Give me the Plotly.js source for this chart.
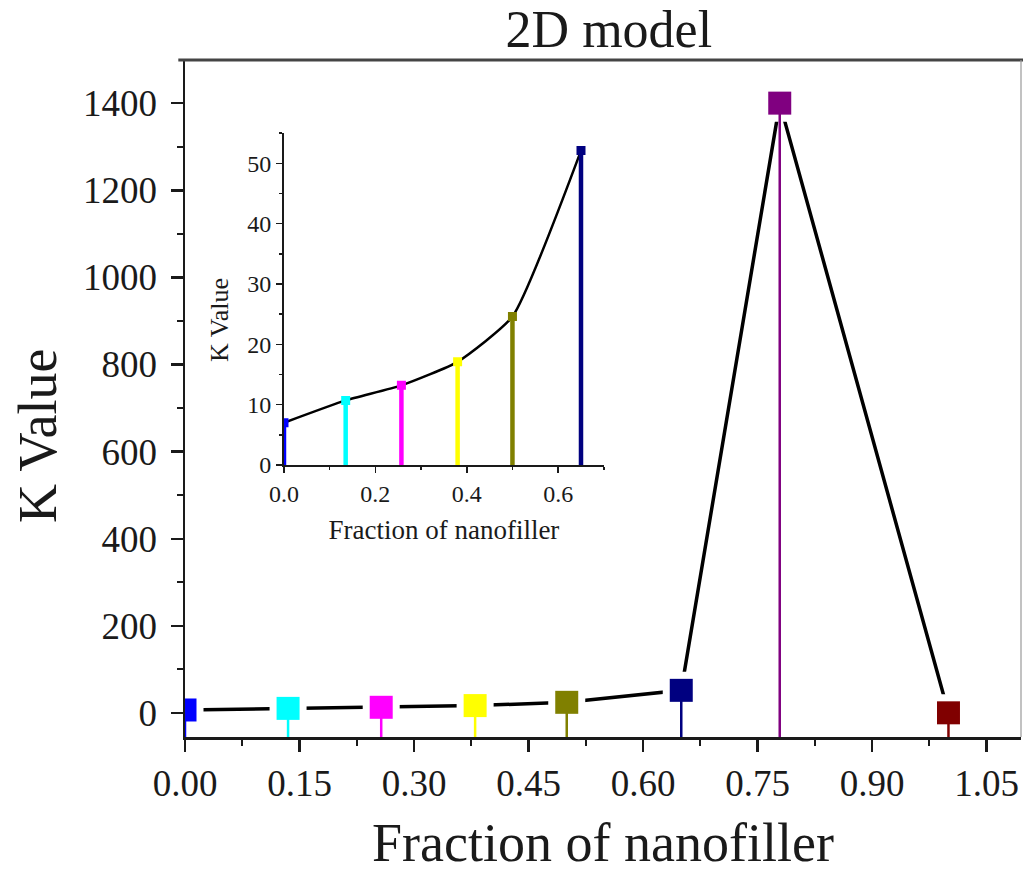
<!DOCTYPE html>
<html>
<head>
<meta charset="utf-8">
<script src="https://cdn.plot.ly/plotly-3.0.1.min.js"></script>
<style>html,body{margin:0;padding:0;background:#fff;}#chart{width:1023px;height:873px;}</style>
</head>
<body>
<div id="chart"></div>
<script>
// ---- data ----
const fraction = [0, 0.135, 0.257, 0.38, 0.5, 0.65, 0.779, 1.0];
const kValue = [7.0, 10.7, 13.2, 17.1, 24.6, 52.1, 1400, 0.5];
const pointColors = ['#0000ff', '#00ffff', '#ff00ff', '#ffff00', '#808000', '#000080', '#800080', '#800000'];
const insetCount = 6; // inset shows the first six points
const mainXRange = [0, 1.095];
const mainYRange = [-55, 1499];
const insetXRange = [0, 0.7];
const insetYRange = [0, 55];

const FONT = 'Liberation Serif, Times New Roman, serif';
const INK = '#1a1a1a';

const traces = [];
// main connecting line
traces.push({x: fraction, y: kValue, mode: 'lines', line: {color: '#000', width: 3.5},
  xaxis: 'x', yaxis: 'y', hoverinfo: 'skip', showlegend: false});
// white gaps around markers (Origin style)
traces.push({x: fraction, y: kValue, mode: 'markers', marker: {symbol: 'square', size: 37, color: '#fff'},
  xaxis: 'x', yaxis: 'y', hoverinfo: 'skip', showlegend: false});
// drop lines (main)
fraction.forEach((fx, i) => {
  traces.push({x: [fx, fx], y: [kValue[i], mainYRange[0]], mode: 'lines',
    line: {color: pointColors[i], width: 2.5}, xaxis: 'x', yaxis: 'y', hoverinfo: 'skip', showlegend: false});
});
// main markers
traces.push({x: fraction, y: kValue, mode: 'markers',
  marker: {symbol: 'square', size: 23, color: pointColors},
  xaxis: 'x', yaxis: 'y', showlegend: false, cliponaxis: true});

// inset
const inX = fraction.slice(0, insetCount);
const inY = kValue.slice(0, insetCount);
const inC = pointColors.slice(0, insetCount);
traces.push({x: inX, y: inY, mode: 'lines', line: {color: '#000', width: 2.5, shape: 'spline', smoothing: 0.5},
  xaxis: 'x2', yaxis: 'y2', hoverinfo: 'skip', showlegend: false});
inX.forEach((fx, i) => {
  traces.push({x: [fx, fx], y: [inY[i], insetYRange[0]], mode: 'lines',
    line: {color: inC[i], width: 4.5}, xaxis: 'x2', yaxis: 'y2', hoverinfo: 'skip', showlegend: false});
});
traces.push({x: inX, y: inY, mode: 'markers', marker: {symbol: 'square', size: 9, color: inC},
  xaxis: 'x2', yaxis: 'y2', showlegend: false, cliponaxis: true});

const axisCommon = {showgrid: false, zeroline: false, showline: true, linecolor: INK, ticks: 'outside', tickcolor: INK};

const layout = {
  width: 1023, height: 873,
  margin: {l: 185, r: 2, t: 60, b: 136},
  paper_bgcolor: '#fff', plot_bgcolor: 'rgba(0,0,0,0)',
  font: {family: FONT, color: INK},
  showlegend: false,
  title: {text: '2D model', font: {family: FONT, size: 52, color: INK},
    xref: 'paper', x: 0.507, xanchor: 'center', yref: 'container', y: 0.967, yanchor: 'middle'},
  xaxis: Object.assign({}, axisCommon, {
    range: mainXRange, tick0: 0, dtick: 0.15, tickformat: '.2f',
    linewidth: 2.5, ticklen: 12, tickwidth: 2.5,
    minor: {dtick: 0.075, ticklen: 6, tickwidth: 2, ticks: 'outside', tickcolor: INK},
    tickfont: {family: FONT, size: 37, color: INK},
    title: {text: 'Fraction of nanofiller', font: {family: FONT, size: 54, color: INK}, standoff: 22}
  }),
  yaxis: Object.assign({}, axisCommon, {
    range: mainYRange, tick0: 0, dtick: 200,
    linewidth: 2.5, ticklen: 12, tickwidth: 2.5,
    minor: {dtick: 100, ticklen: 6, tickwidth: 2, ticks: 'outside', tickcolor: INK},
    tickfont: {family: FONT, size: 37, color: INK},
    ticklabelstandoff: 6
  }),
  xaxis2: Object.assign({}, axisCommon, {
    domain: [0.1184, 0.501], anchor: 'y2', range: insetXRange, tick0: 0, dtick: 0.2, tickformat: '.1f',
    linewidth: 2, ticklen: 6, tickwidth: 1.5,
    minor: {dtick: 0.1, ticklen: 3, tickwidth: 1.5, ticks: 'outside', tickcolor: INK},
    tickfont: {family: FONT, size: 24, color: INK},
    title: {text: 'Fraction of nanofiller', font: {family: FONT, size: 27, color: INK}, standoff: 14}
  }),
  yaxis2: Object.assign({}, axisCommon, {
    domain: [0.4018, 0.892], anchor: 'x2', range: insetYRange, tick0: 0, dtick: 10,
    linewidth: 2, ticklen: 6, tickwidth: 1.5,
    minor: {dtick: 5, ticklen: 3, tickwidth: 1.5, ticks: 'outside', tickcolor: INK},
    tickfont: {family: FONT, size: 24, color: INK},
    ticklabelstandoff: 0
  }),
  annotations: [
    {text: 'K Value', xref: 'paper', yref: 'paper', x: -0.1758, y: 0.4446, textangle: -90,
      showarrow: false, xanchor: 'center', yanchor: 'middle', font: {family: FONT, size: 54, color: INK}},
    {text: 'K Value', xref: 'paper', yref: 'paper', x: 0.0419, y: 0.616, textangle: -90,
      showarrow: false, xanchor: 'center', yanchor: 'middle', font: {family: FONT, size: 26, color: INK}}
  ],
  shapes: [
    {type: 'line', xref: 'paper', yref: 'paper', x0: -0.008, x1: 1.003, y0: 1, y1: 1, line: {color: '#444', width: 3}},
    {type: 'line', xref: 'paper', yref: 'paper', x0: 1, x1: 1, y0: 0, y1: 1, line: {color: '#999', width: 1.2}}
  ]
};

Plotly.newPlot('chart', traces, layout, {displayModeBar: false, staticPlot: true});
</script>
</body>
</html>
